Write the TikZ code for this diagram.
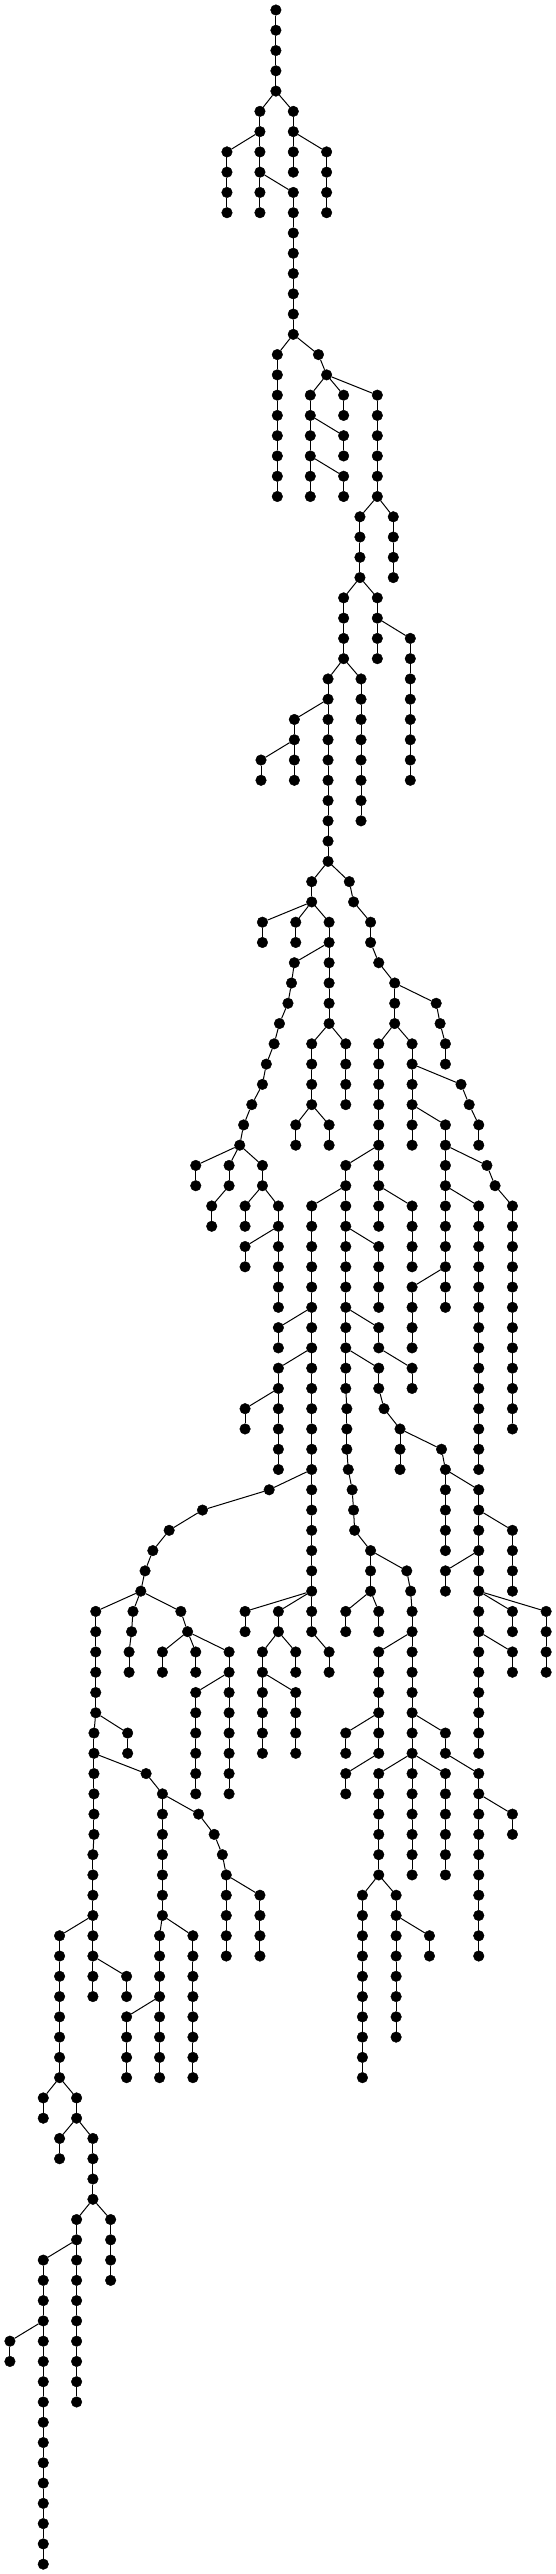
\documentclass[tikz,border=0pt]{standalone}
\usepackage{tikz}

\begin{document}
\begin{tikzpicture}
[x=0.35461pt, y=-20.27pt,
    dot/.style={circle, fill=black, draw=black, inner sep=0pt, minimum size=10.6pt},
    branch/.style={draw=black, line width=1pt}
    ]
    \useasboundingbox (0,0) rectangle (1565.1,126.98);
    \node[dot] (v0x778) at (778,0.4933) {};
    % column/first level/last level/column of the parent
    \foreach \colx/\lfirst/\llast/\parx in {
        778/1/4/778, 733/5/6/778, 640/7/10/733, 733/7/10/733, 827/9/16/733,
        827/5/8/778, 921/7/10/827, 782/17/24/827, 898/17/17/827, 921/18/18/898,
        875/19/24/921, 969/21/22/875, 969/23/24/875, 969/19/20/921, 1064/19/24/921,
        1015/25/28/1064, 1109/25/28/1064, 969/29/32/1015, 1064/29/32/1015,
        1157/31/38/1064, 925/33/42/969, 1018/33/40/969, 830/35/38/925, 736/37/38/830,
        879/43/44/925, 740/45/46/879, 834/45/46/879, 928/45/50/879,
        830/47/47/928, 822/48/48/830, 812/49/49/822, 788/50/50/812, 773/51/51/788,
        751/52/52/773, 740/53/53/751, 710/54/54/740, 687/55/55/710, 676/56/56/687,
        879/51/54/928, 975/51/54/928,
        985/43/43/925, 997/44/44/985, 1045/45/46/997, 1068/47/47/1045, 1113/48/50/1068,
        1230/49/49/1113, 1241/50/50/1230, 1256/51/52/1241,
        1068/51/60/1113, 1162/51/56/1113, 1300/53/53/1162, 1323/54/54/1300, 1350/55/56/1323,
        552/57/58/676, 646/57/58/676, 597/59/60/646, 740/57/58/676, 691/59/60/740,
        785/59/64/740, 691/61/62/785, 834/55/56/879, 928/55/56/879,
        975/57/58/1068, 879/59/80/975, 975/59/68/975, 978/69/71/975, 982/72/72/978,
        993/73/73/982, 997/74/74/993, 1000/75/75/997, 1045/76/78/1000,
        1068/61/64/975, 1162/59/62/1068, 1256/55/64/1162, 1373/57/57/1256,
        1396/58/58/1373, 1445/59/70/1396, 1350/59/72/1256, 1162/63/66/1256,
        785/65/66/879, 785/67/72/879, 691/69/70/785,
        1068/65/66/975, 1162/67/68/1068, 1068/67/68/975, 1083/69/69/1068,
        1128/70/72/1083, 1245/71/71/1128, 1256/72/76/1245, 1350/73/86/1256,
        1445/75/78/1350, 1256/77/78/1350, 1445/79/80/1350, 1540/79/82/1350, 1445/81/82/1350,
        759/73/73/879, 571/74/74/759, 477/75/75/571, 431/76/76/477, 409/77/77/431,
        397/78/78/409, 270/79/84/397, 375/79/79/397, 371/80/80/375, 364/81/82/371,
        510/79/79/397, 529/80/80/510, 458/81/82/529, 552/81/82/529, 646/81/88/529,
        552/83/88/646, 691/79/80/879, 785/79/80/879, 740/81/86/785, 834/81/82/785,
        834/83/86/740, 928/81/82/879,
        975/79/80/1045, 1068/79/80/1045, 1147/77/77/1045, 1158/78/78/1147,
        1162/79/92/1158, 1068/81/86/1162, 975/85/86/1068, 975/87/88/1068,
        1068/87/92/1162, 1256/85/86/1162, 1256/87/92/1162, 1350/87/96/1256,
        1445/89/90/1350, 1022/93/102/1068, 1117/93/100/1068, 1211/95/96/1117,
        265/85/90/270, 262/91/98/265, 360/85/86/270, 412/87/87/265, 458/88/94/412,
        450/95/102/458, 544/95/102/458, 357/99/102/450, 560/89/89/458, 604/90/90/560,
        627/91/91/604, 638/92/96/627, 733/93/96/638,
        168/95/102/262, 357/97/98/262, 122/103/104/168, 216/103/104/168,
        168/105/106/216, 262/105/108/216, 216/109/118/262, 312/109/112/262,
        122/111/126/216, 28/115/116/122}{
        \foreach \lev in {\lfirst,...,\llast}{
            \pgfmathtruncatemacro\plev{\lev-1}
            \ifnum\lev=\lfirst\relax \edef\pcol{\parx}\else \edef\pcol{\colx}\fi
            \node[dot] (v\lev x\colx) at (\colx,\lev+0.4933) {};
            \draw[branch] (v\plev x\pcol) -- (v\lev x\colx);
        }
    }
\end{tikzpicture}
\end{document}
